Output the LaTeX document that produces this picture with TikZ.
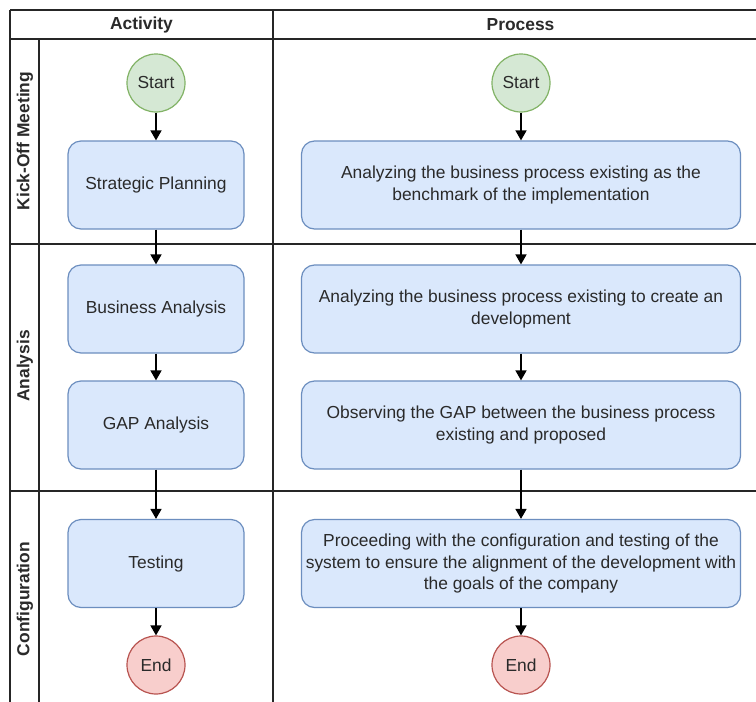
\documentclass[tikz,border=0pt]{standalone}
\usepackage{fontspec}
\setmainfont{Liberation Sans}
\usetikzlibrary{arrows.meta}
\definecolor{gridline}{HTML}{262626}
\definecolor{txt}{HTML}{2A2A2A}
\definecolor{startfill}{HTML}{D5E8D4}
\definecolor{startdraw}{HTML}{82B366}
\definecolor{boxfill}{HTML}{DAE8FC}
\definecolor{boxdraw}{HTML}{6C8EBF}
\definecolor{endfill}{HTML}{F8CECC}
\definecolor{enddraw}{HTML}{B85450}
\tikzset{
  base/.style={font=\fontsize{17.4}{21.5}\selectfont, text=txt, align=center, inner sep=1pt},
  startnode/.style={base, circle, minimum size=58pt, fill=startfill, draw=startdraw, line width=1.2pt},
  endnode/.style={base, circle, minimum size=58pt, fill=endfill, draw=enddraw, line width=1.2pt},
  actbox/.style={base, rounded corners=13pt, minimum width=176pt, minimum height=88pt, fill=boxfill, draw=boxdraw, line width=1.2pt},
  procbox/.style={actbox, minimum width=439pt},
  lanegrid/.style={draw=gridline, line width=2pt},
  headtext/.style={font=\fontsize{17.4}{20}\selectfont\bfseries, text=txt},
  lanetext/.style={headtext, rotate=90},
  flow/.style={draw=black, line width=1.5pt, -{Triangle[width=11pt,length=10pt]}}
}
\begin{document}
\begin{tikzpicture}[x=1pt, y=-1pt]
\useasboundingbox (0,0) rectangle (756,702);
\fill[white] (0,0) rectangle (756,702);

% swimlane grid
\draw[lanegrid] (10,10) -- (756,10);
\draw[lanegrid] (10,39) -- (756,39);
\draw[lanegrid] (10,244) -- (756,244);
\draw[lanegrid] (10,490.5) -- (756,490.5);
\draw[lanegrid] (10,10) -- (10,702);
\draw[lanegrid] (39,39) -- (39,702);
\draw[lanegrid] (273,10) -- (273,702);

% column headers
\node[headtext] (hact) at (141.5,25) {Activity};
\node[headtext] (hproc) at (520.5,25) {Process};

% lane titles
\node[lanetext] (lkick) at (25,141) {Kick-Off Meeting};
\node[lanetext] (lana) at (25,366) {Analysis};
\node[lanetext] (lconf) at (25,599) {Configuration};

% activity column
\node[startnode] (s1) at (156,83) {Start};
\node[actbox] (sp) at (156,185) {Strategic Planning};
\node[actbox] (ba) at (156,309) {Business Analysis};
\node[actbox] (ga) at (156,425) {GAP Analysis};
\node[actbox] (te) at (156,563.5) {Testing};
\node[endnode] (e1) at (156,665) {End};

% process column
\node[startnode] (s2) at (521,83) {Start};
\node[procbox] (p1) at (521,185) {Analyzing the business process existing as the\\benchmark of the implementation};
\node[procbox] (p2) at (521,309) {Analyzing the business process existing to create an\\development};
\node[procbox] (p3) at (521,425) {Observing the GAP between the business process\\existing and proposed};
\node[procbox] (p4) at (521,563.5) {Proceeding with the configuration and testing of the\\system to ensure the alignment of the development with\\the goals of the company};
\node[endnode] (e2) at (521,665) {End};

% flow arrows
\draw[flow] (s1) -- (sp);
\draw[flow] (sp) -- (ba);
\draw[flow] (ba) -- (ga);
\draw[flow] (ga) -- (te);
\draw[flow] (te) -- (e1);
\draw[flow] (s2) -- (p1);
\draw[flow] (p1) -- (p2);
\draw[flow] (p2) -- (p3);
\draw[flow] (p3) -- (p4);
\draw[flow] (p4) -- (e2);
\end{tikzpicture}
\end{document}
